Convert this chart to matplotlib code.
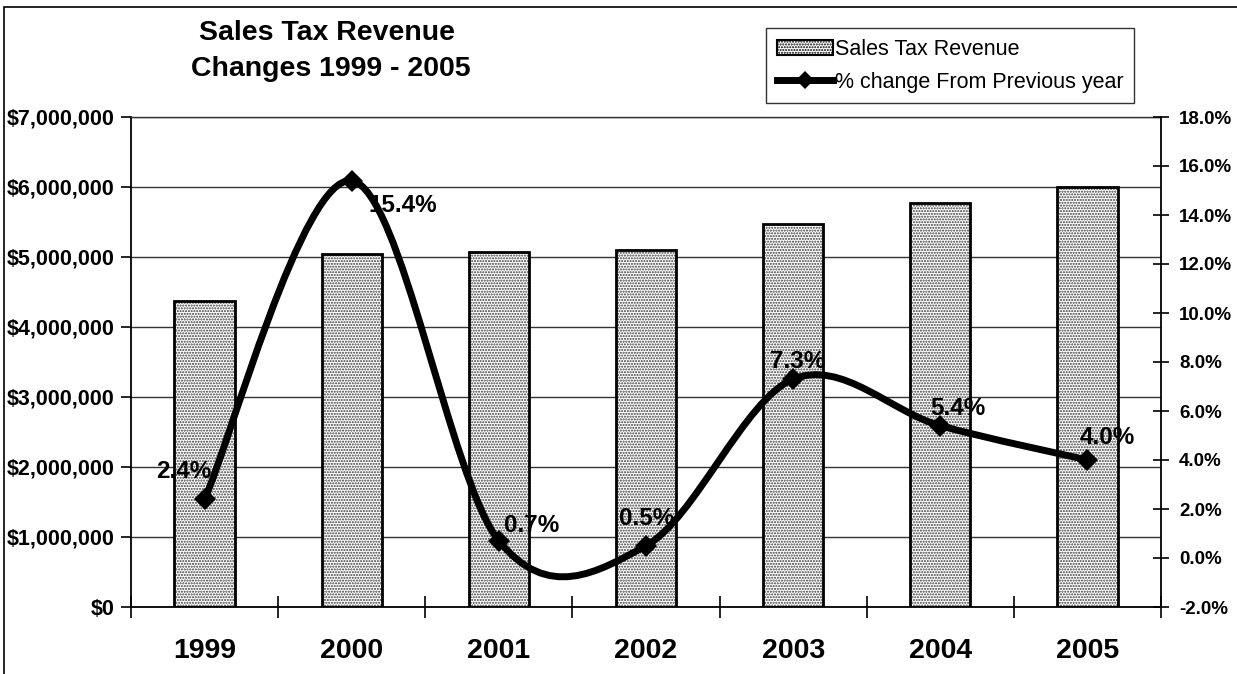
#!/usr/bin/env python
"""
Sales tax revenue by year with the yearly % change on a second axis.
"""

import numpy as np
import matplotlib
matplotlib.use("Agg")
import matplotlib.pyplot as plt
from matplotlib.path import Path
from matplotlib.patches import PathPatch, Rectangle
from matplotlib.lines import Line2D
from matplotlib.ticker import FuncFormatter

years = ["1999", "2000", "2001", "2002", "2003", "2004", "2005"]
revenue = [4370000, 5040000, 5075000, 5100000, 5470000, 5770000, 6000000]
pct_change = [2.4, 15.4, 0.7, 0.5, 7.3, 5.4, 4.0]

# label offsets (pixels) from each marker
label_offsets = [(-21, 28), (51, -25), (33, 15), (1, 27), (4, 18), (18, 17), (20, 23)]

plt.rcParams["font.family"] = ["Liberation Sans", "DejaVu Sans"]

W, H = 1237, 674


def smooth_path(x, y):
    """Catmull-Rom style bezier through the points (like a smoothed line chart)."""
    pts = np.column_stack([x, y]).astype(float)
    n = len(pts)
    verts = [pts[0]]
    codes = [Path.MOVETO]
    for i in range(n - 1):
        p0 = pts[max(i - 1, 0)]
        p1 = pts[i]
        p2 = pts[i + 1]
        p3 = pts[min(i + 2, n - 1)]
        c1 = p1 + (p2 - p0) / 6.0
        c2 = p2 - (p3 - p1) / 6.0
        verts += [c1, c2, p2]
        codes += [Path.CURVE4] * 3
    return Path(verts, codes)


def plot_revenue():
    fig = plt.figure(figsize=(W / 100, H / 100), dpi=100)
    ax = fig.add_axes([131 / W, 1 - 607 / H, (1161 - 131) / W, (607 - 117) / H])
    ax2 = ax.twinx()

    x = np.arange(len(years))

    # bars: stippled fill, then black outline
    ax.bar(x, revenue, width=0.41, facecolor="white", edgecolor="#3a3a3a",
           hatch="......", linewidth=0, zorder=2)
    ax.bar(x, revenue, width=0.41, fill=False, edgecolor="black",
           linewidth=2, zorder=3)

    ax.set_xlim(-0.5, len(years) - 0.5)
    ax.set_ylim(0, 7000000)
    ax.set_yticks(np.arange(0, 7000001, 1000000))
    ax.yaxis.set_major_formatter(FuncFormatter(lambda v, p: "${:,.0f}".format(v)))
    ax.yaxis.grid(True, color="#333333", linewidth=1)
    ax.set_axisbelow(True)

    # ticks between categories, labels at the centres
    ax.set_xticks(np.arange(-0.5, len(years), 1.0))
    ax.set_xticklabels([])
    ax.set_xticks(x, minor=True)
    ax.set_xticklabels(years, minor=True, fontsize=20.5, fontweight="bold")
    ax.tick_params(axis="x", which="major", direction="inout", length=16, width=1.2)
    ax.tick_params(axis="x", which="minor", length=0, pad=22)
    ax.tick_params(axis="y", direction="out", length=7, width=1.2, pad=5,
                   labelsize=15.5)
    for t in ax.get_yticklabels():
        t.set_fontweight("bold")

    for s in ["left", "bottom"]:
        ax.spines[s].set_linewidth(1.3)
    ax.spines["top"].set_linewidth(1)
    ax.spines["top"].set_color("#333333")
    ax.spines["right"].set_visible(False)

    # % change on the right axis
    ax2.set_ylim(-2, 18)
    ax2.set_yticks(np.arange(-2, 18.1, 2))
    ax2.yaxis.set_major_formatter(FuncFormatter(lambda v, p: "{:.1f}%".format(v)))
    ax2.tick_params(axis="y", direction="inout", length=12, width=1.2, pad=7,
                    labelsize=13.5)
    for t in ax2.get_yticklabels():
        t.set_fontweight("bold")
    ax2.spines["right"].set_linewidth(1.3)
    for s in ["left", "top", "bottom"]:
        ax2.spines[s].set_visible(False)

    curve = PathPatch(smooth_path(x, pct_change), facecolor="none",
                      edgecolor="black", linewidth=5, capstyle="round",
                      joinstyle="round", zorder=4)
    ax2.add_patch(curve)
    ax2.plot(x, pct_change, linestyle="none", marker="D", markersize=11,
             color="black", markeredgewidth=0, zorder=5)

    for xi, v, (dx, dy) in zip(x, pct_change, label_offsets):
        ax2.annotate("{:.1f}%".format(v), (xi, v), xytext=(dx, dy),
                     textcoords="offset pixels", ha="center", va="center",
                     fontsize=17.5, fontweight="bold", zorder=3)

    # legend
    handles = [
        Rectangle((0, 0), 1, 1, facecolor="white", edgecolor="black",
                  hatch="......", linewidth=1.5),
        Line2D([0], [0], color="black", linewidth=5, marker="D",
               markersize=9, markeredgewidth=0),
    ]
    leg = fig.legend(handles, ["Sales Tax Revenue", "% change From Previous year"],
                     loc="upper left", bbox_to_anchor=(766 / W, 1 - 28 / H),
                     fontsize=15.5, frameon=True, fancybox=False, shadow=False,
                     handlelength=2.6, handletextpad=0.1, labelspacing=0.55,
                     borderpad=0.5, borderaxespad=0, numpoints=1)
    leg.get_frame().set_edgecolor("black")
    leg.get_frame().set_linewidth(1)

    # title
    fig.text(327 / W, 1 - 33 / H, "Sales Tax Revenue", ha="center", va="center",
             fontsize=20.5, fontweight="bold")
    fig.text(331 / W, 1 - 69 / H, "Changes 1999 - 2005", ha="center", va="center",
             fontsize=20.5, fontweight="bold")

    # chart border (left/top edges in view)
    fig.patches.append(Rectangle((4 / W, -0.1), 1.2, 1.1 - 7 / H,
                                 transform=fig.transFigure, fill=False,
                                 edgecolor="black", linewidth=1.2))

    fig.savefig("out.png", dpi=100)


if __name__ == "__main__":
    plot_revenue()
